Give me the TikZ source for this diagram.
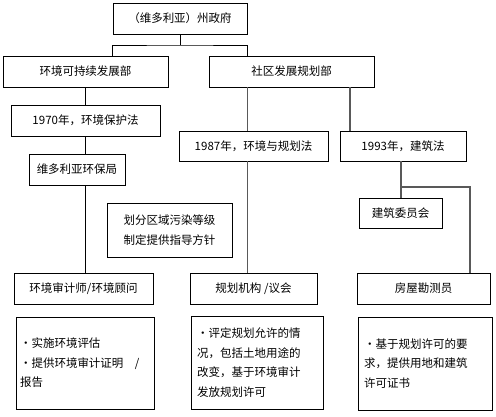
\documentclass[tikz,border=0pt]{standalone}
\usepackage{fontspec}
\setmainfont{Noto Sans CJK SC}
\begin{document}
\begin{tikzpicture}[x=1pt,y=-1pt,
  box/.style={draw=black,line width=0.8pt,inner sep=0pt,font=\fontsize{11.5}{13}\selectfont},
  desc/.style={box,align=left,font=\fontsize{11.5}{19.5}\selectfont},
  thinline/.style={draw=black,line width=0.7pt},
  grayline/.style={draw=black!65,line width=1.3pt}]
\useasboundingbox[fill=white] (0,0) rectangle (496,416);
\node[box,minimum width=134pt,minimum height=31pt] (top) at (180,18.5) {（维多利亚）州政府};
\node[box,minimum width=165pt,minimum height=31pt] (envdept) at (85.5,71.5) {环境可持续发展部};
\node[box,minimum width=165pt,minimum height=31pt] (comm) at (291.5,71.5) {社区发展规划部};
\node[box,minimum width=149pt,minimum height=31pt] (law70) at (85.5,120.5) {1970年，环境保护法};
\node[box,minimum width=149pt,minimum height=30pt] (law87) at (253.5,146) {1987年，环境与规划法};
\node[box,minimum width=126pt,minimum height=30pt] (law93) at (403,146) {1993年，建筑法};
\node[box,minimum width=96pt,minimum height=31pt] (epa) at (77,169.5) {维多利亚环保局};
\node[box,minimum width=125pt,minimum height=54pt,align=left,font=\fontsize{11.5}{19.5}\selectfont] (zone) at (169.5,230) {划分区域污染等级\\制定提供指导方针};
\node[box,minimum width=83pt,minimum height=30pt] (bldcomm) at (400.5,213) {建筑委员会};
\node[box,minimum width=139pt,minimum height=31pt] (auditor) at (83.5,288.5) {环境审计师/环境顾问};
\node[box,minimum width=127pt,minimum height=31pt] (planning) at (253.5,288.5) {规划机构 /议会};
\node[box,minimum width=133pt,minimum height=31pt] (surveyor) at (423.5,288.5) {房屋勘测员};
\node[desc,minimum width=138pt,minimum height=92pt,text width=130pt] (d1) at (85,363) {・实施环境评估\\・提供环境审计证明　/\\报告};
\node[desc,minimum width=132pt,minimum height=93pt,text width=120pt] (d2) at (257,362.5) {・评定规划允许的情\\况，包括土地用途的\\改变，基于环境审计\\发放规划许可};
\node[desc,minimum width=134pt,minimum height=93pt,text width=122pt] (d3) at (425,363.5) {・基于规划许可的要\\求，提供用地和建筑\\许可证书};
% junction coordinates
\coordinate (j1) at (180,45);
\coordinate (c2) at (350,87);
\coordinate (j93) at (401,187);
\coordinate (r93) at (470,187);
% connectors
\draw[thinline] (top.south) -- (j1);
\draw[thinline] (top.west |- envdept.north) |- (j1) -| (top.east |- comm.north);
\draw[thinline] (envdept.south) -- (law70.north);
\draw[thinline] (law70.south) -- (law70.south |- epa.north);
\draw[thinline] (law70.south |- epa.south) -- (law70.south |- auditor.north);
\draw[grayline] (top.east |- comm.south) -- (top.east |- law87.north);
\draw[grayline] (c2) -- (c2 |- law93.north);
\draw[grayline] (top.east |- law87.south) -- (top.east |- planning.north);
\draw[grayline] (j93 |- law93.south) -- (j93) -- (j93 |- bldcomm.north);
\draw[grayline] (j93) -- (r93) -- (r93 |- surveyor.north);
\end{tikzpicture}
\end{document}
